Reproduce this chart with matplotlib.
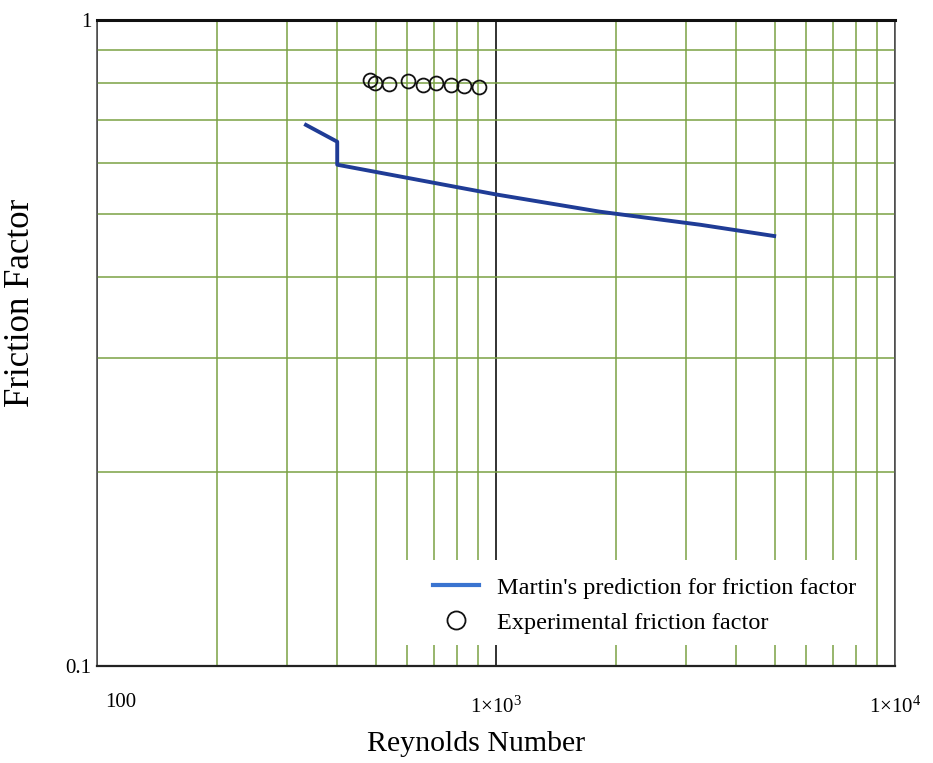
import matplotlib
matplotlib.use("Agg")
import matplotlib.pyplot as plt
from matplotlib.lines import Line2D
from matplotlib.patches import Rectangle
from matplotlib.transforms import ScaledTranslation
from matplotlib.ticker import FixedLocator, NullFormatter

# Martin's prediction
re_pred = [334, 400, 400, 1000, 1820, 3250, 4980]
f_pred = [0.688, 0.648, 0.597, 0.537, 0.505, 0.482, 0.463]

# Experimental points
re_exp = [483, 497, 539, 602, 656, 707, 771, 831, 906]
f_exp = [0.807, 0.799, 0.796, 0.805, 0.793, 0.799, 0.793, 0.790, 0.788]

x_ticks = [100, 1000, 10000]
x_labels = ["100", r"$\mathregular{1{\times}10^{3}}$", r"$\mathregular{1{\times}10^{4}}$"]
y_ticks = [0.1, 1]
y_labels = ["0.1", "1"]
x_minor = [200, 300, 400, 500, 600, 700, 800, 900,
           2000, 3000, 4000, 5000, 6000, 7000, 8000, 9000]
y_minor = [0.2, 0.3, 0.4, 0.5, 0.6, 0.7, 0.8, 0.9]

legend_labels = ["Martin's prediction for friction factor", "Experimental friction factor"]

plt.rcParams['font.family'] = ['Liberation Serif', 'DejaVu Serif']
plt.rcParams['mathtext.fontset'] = 'custom'
plt.rcParams['mathtext.rm'] = 'Liberation Serif'

fig = plt.figure(figsize=(9.33, 7.63), dpi=100)
ax = fig.add_axes([97/933, 97/763, 798/933, 646/763])
ax.set_xscale('log')
ax.set_yscale('log')
ax.set_xlim(100, 10000)
ax.set_ylim(0.1, 1)

green = '#7aa244'
ax.xaxis.set_minor_locator(FixedLocator(x_minor))
ax.yaxis.set_minor_locator(FixedLocator(y_minor))
ax.xaxis.set_minor_formatter(NullFormatter())
ax.yaxis.set_minor_formatter(NullFormatter())
ax.set_xticks(x_ticks)
ax.set_xticklabels(x_labels)
ax.set_yticks(y_ticks)
ax.set_yticklabels(y_labels)
ax.grid(which='minor', color=green, lw=1.1)
ax.grid(which='major', axis='x', color='#222222', lw=1.3)
ax.set_axisbelow(True)
ax.tick_params(which='both', length=0, labelsize=15)
ax.tick_params(axis='x', pad=22)
ax.tick_params(axis='y', pad=4)

offset = ScaledTranslation(24/100, 4/100, fig.dpi_scale_trans)
lab0 = ax.get_xticklabels()[0]
lab0.set_transform(lab0.get_transform() + offset)

for s in ['left', 'right']:
    ax.spines[s].set_color('#555555')
    ax.spines[s].set_linewidth(1.2)
ax.spines['top'].set_color('#111111')
ax.spines['top'].set_linewidth(2.2)
ax.spines['bottom'].set_color('#222222')
ax.spines['bottom'].set_linewidth(1.6)

ax.plot(re_pred, f_pred, color='#1f3c96', lw=2.8, zorder=4)
ax.plot(re_exp, f_exp, linestyle='none', marker='o', markersize=10,
        markerfacecolor='none', markeredgecolor='#111111', markeredgewidth=1.3, zorder=5)

# white legend background covering the grid
ax.add_patch(Rectangle((0.38, 0.033), 0.59, 0.131, transform=ax.transAxes,
                       facecolor='white', edgecolor='none', zorder=3))
handles = [Line2D([], [], color='#3a74d0', lw=3),
           Line2D([], [], linestyle='none', marker='o', markersize=13,
                  markerfacecolor='none', markeredgecolor='#111111', markeredgewidth=1.3)]
leg = ax.legend(handles, legend_labels, loc='center left',
                bbox_to_anchor=(0.421, 0.094), frameon=False, fontsize=17.5,
                borderpad=0, handlelength=1.9, handletextpad=0.75, labelspacing=0.55,
                borderaxespad=0)
leg.set_zorder(6)

ax.set_xlabel('Reynolds Number', fontsize=21.5)
ax.xaxis.set_label_coords(0.475, -0.100)
ax.set_ylabel('Friction Factor', fontsize=25)
ax.yaxis.set_label_coords(-0.075, 0.562)

fig.savefig('out.png', dpi=100)
